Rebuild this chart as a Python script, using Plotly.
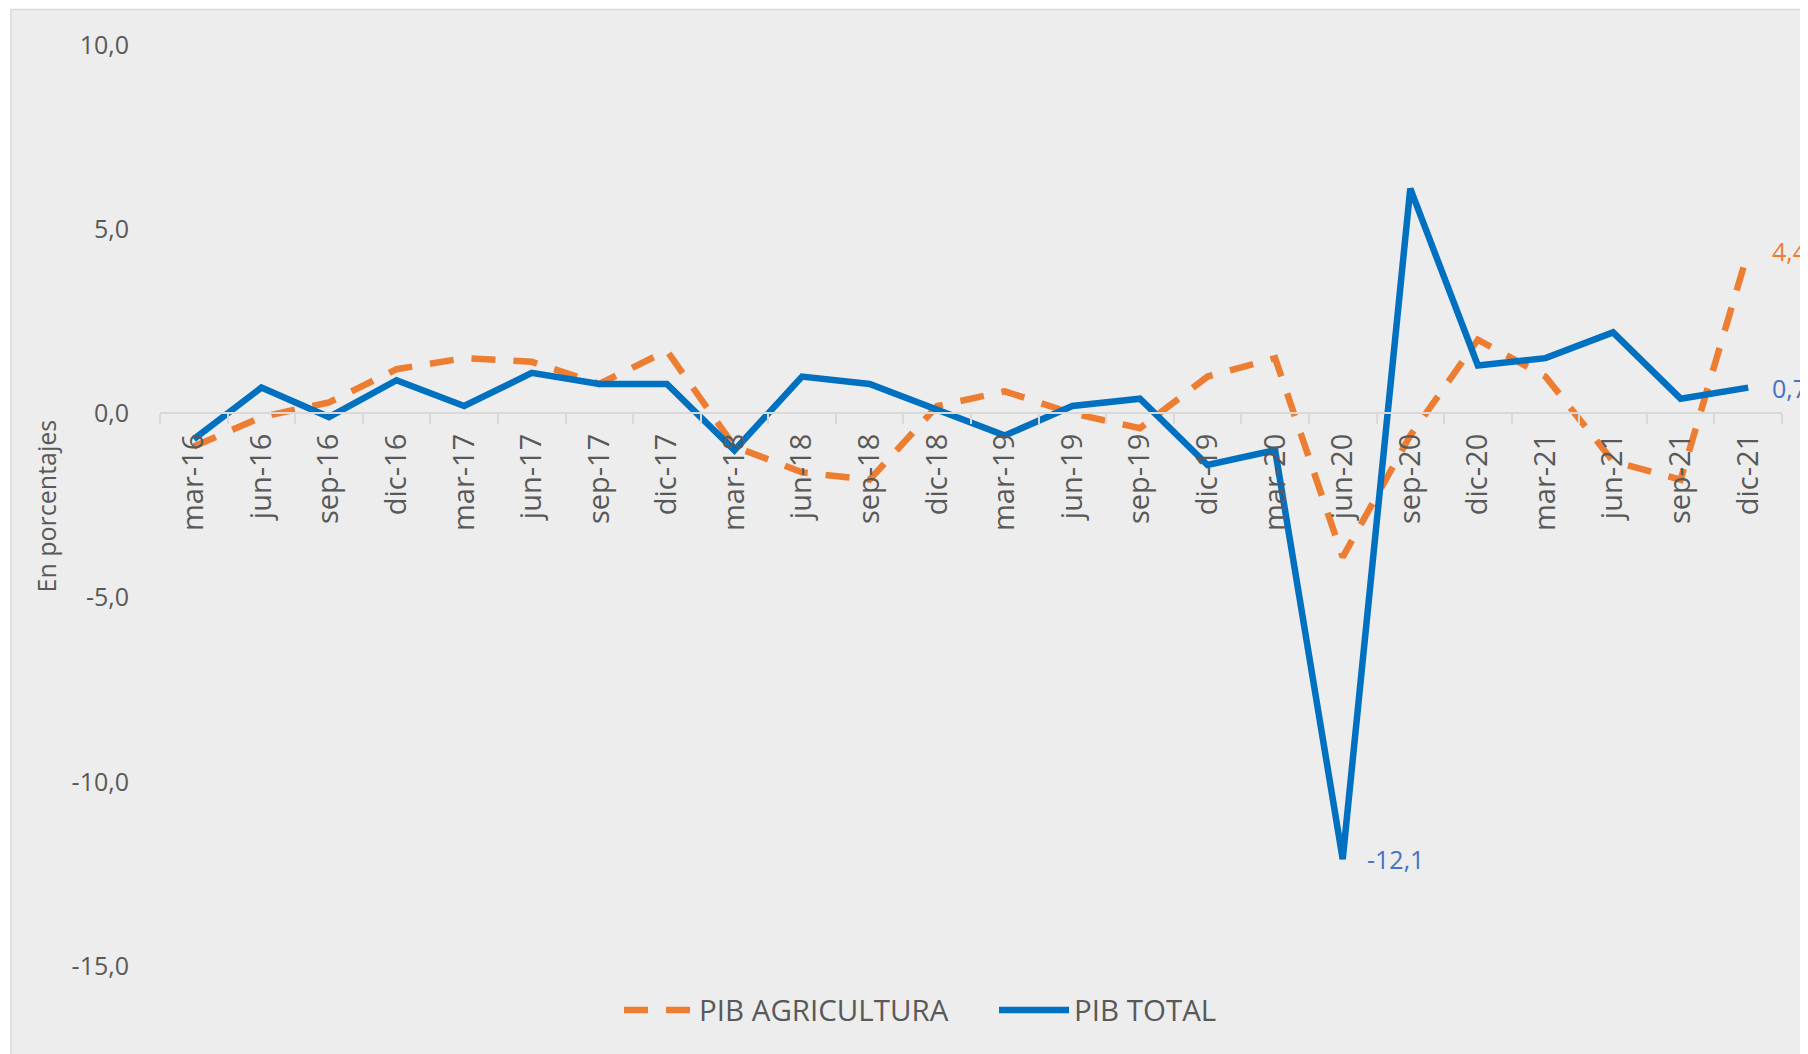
import plotly.graph_objects as go

categories = ["mar-16", "jun-16", "sep-16", "dic-16", "mar-17", "jun-17", "sep-17", "dic-17",
              "mar-18", "jun-18", "sep-18", "dic-18", "mar-19", "jun-19", "sep-19", "dic-19",
              "mar-20", "jun-20", "sep-20", "dic-20", "mar-21", "jun-21", "sep-21", "dic-21"]

pib_agricultura = [-0.9, -0.1, 0.3, 1.2, 1.5, 1.4, 0.8, 1.7, -0.9, -1.6, -1.8, 0.2,
                   0.6, 0.0, -0.4, 1.0, 1.5, -3.9, -0.6, 2.0, 1.0, -1.3, -1.8, 4.4]

pib_total = [-0.7, 0.7, -0.1, 0.9, 0.2, 1.1, 0.8, 0.8, -1.0, 1.0, 0.8, 0.1,
             -0.6, 0.2, 0.4, -1.4, -1.0, -12.1, 6.1, 1.3, 1.5, 2.2, 0.4, 0.7]

y_tickvals = [10, 5, 0, -5, -10, -15]
y_ticktext = ["10,0", "5,0", "0,0", "-5,0", "-10,0", "-15,0"]

# indices of the points that carry a data label
labelled_total = [17, 23]
labelled_agri = [23]

ORANGE = "#ED7D31"
BLUE = "#0070C0"
LABEL_BLUE = "#4472C4"
TXT = "#595959"
FONT = "Open Sans"

fig = go.Figure()
fig.add_trace(go.Scatter(
    x=categories, y=pib_agricultura, mode="lines", name="PIB AGRICULTURA",
    line=dict(color=ORANGE, width=6.5, dash="24px,18px"),
))
fig.add_trace(go.Scatter(
    x=categories, y=pib_total, mode="lines", name="PIB TOTAL",
    line=dict(color=BLUE, width=6.5),
))


def fmt(v):
    return f"{v:.1f}".replace(".", ",")


annotations = []
for i in labelled_total:
    annotations.append(dict(x=categories[i], y=pib_total[i], xref="x", yref="y",
                            text=fmt(pib_total[i]), showarrow=False, xanchor="left",
                            yanchor="middle", xshift=22,
                            font=dict(family=FONT, size=25, color=LABEL_BLUE)))
for i in labelled_agri:
    annotations.append(dict(x=categories[i], y=pib_agricultura[i], xref="x", yref="y",
                            text=fmt(pib_agricultura[i]), showarrow=False, xanchor="left",
                            yanchor="middle", xshift=22,
                            font=dict(family=FONT, size=25, color=ORANGE)))

# y-axis title
annotations.append(dict(x=-0.0703, y=0.5, xref="paper", yref="paper", text="En porcentajes",
                        textangle=-90, showarrow=False, xanchor="center", yanchor="middle",
                        font=dict(family=FONT, size=25, color=TXT)))

fig.update_layout(
    width=1800, height=1046,
    margin=dict(l=152, r=26, t=36.5, b=88.3, pad=0),
    paper_bgcolor="white",
    plot_bgcolor="rgba(0,0,0,0)",
    separators=",.",
    font=dict(family=FONT, color=TXT),
    showlegend=True,
    legend=dict(orientation="h", x=0.283, y=-0.048, xanchor="left", yanchor="middle",
                font=dict(family=FONT, size=29.5, color=TXT), bgcolor="rgba(0,0,0,0)",
                itemwidth=70, entrywidth=290, entrywidthmode="pixels"),
    annotations=annotations,
    shapes=[dict(type="rect", xref="paper", yref="paper", x0=-0.0919, x1=1.1, y0=-0.2, y1=1.0385,
                 fillcolor="#EDEDED", line=dict(color="#D9D9D9", width=1.5), layer="below")],
    xaxis=dict(
        type="category", range=[-0.5, 23.5], anchor="free", position=0.6,
        showline=True, linecolor="#D9D9D9", linewidth=1.5,
        ticks="outside", tickson="boundaries", ticklen=10, tickcolor="#D9D9D9", tickwidth=1.5,
        tickangle=-90, tickfont=dict(family=FONT, size=29, color=TXT),
        ticklabelstandoff=8,
        showgrid=False, zeroline=False, automargin=False,
    ),
    yaxis=dict(
        range=[-15, 10], tickvals=y_tickvals, ticktext=y_ticktext,
        showgrid=False, zeroline=False, showline=False, ticks="",
        tickfont=dict(family=FONT, size=25, color=TXT),
        ticklabelstandoff=30, automargin=False,
    ),
)

fig.write_html("out.html")
